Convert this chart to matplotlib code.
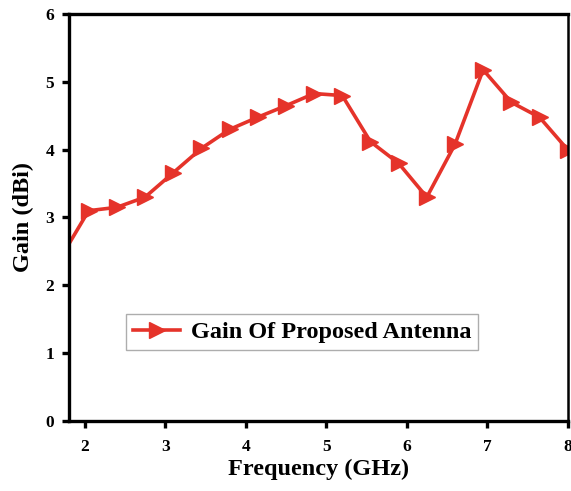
import matplotlib
matplotlib.use("Agg")
import matplotlib.pyplot as plt

# gain of the proposed antenna vs frequency
freq_ghz = [1.70, 2.05, 2.40, 2.75, 3.10, 3.45, 3.80, 4.15, 4.50, 4.85,
            5.20, 5.55, 5.90, 6.25, 6.60, 6.95, 7.30, 7.65, 8.00]
gain_dbi = [2.40, 3.10, 3.15, 3.30, 3.66, 4.02, 4.30, 4.48, 4.65, 4.83,
            4.80, 4.12, 3.80, 3.30, 4.08, 5.18, 4.70, 4.48, 4.00]
x_ticks = [2, 3, 4, 5, 6, 7, 8]
y_ticks = [0, 1, 2, 3, 4, 5, 6]
series_label = "Gain Of Proposed Antenna"

plt.rcParams['font.family'] = ['Liberation Serif', 'DejaVu Serif']
plt.rcParams['font.weight'] = 'bold'

fig = plt.figure(figsize=(5.71, 4.91), dpi=100)
ax = fig.add_axes([0.1214, 0.1432, 0.8728, 0.8277])

ax.plot(freq_ghz, gain_dbi, color='#e5332a', linewidth=2.6, marker='>',
        markersize=11, label=series_label)

ax.set_xlim(1.81, 8.0)
ax.set_ylim(0, 6)
ax.set_xticks(x_ticks)
ax.set_yticks(y_ticks)

for side in ['left', 'bottom', 'top']:
    ax.spines[side].set_linewidth(2.4)
ax.spines['right'].set_linewidth(1.8)
ax.tick_params(direction='out', length=5, width=2.4, labelsize=12.5)
ax.tick_params(axis='x', pad=8)
ax.tick_params(axis='y', pad=6)
for lab in ax.get_xticklabels() + ax.get_yticklabels():
    lab.set_fontweight('bold')

ax.set_xlabel("Frequency (GHz)", fontsize=17.5, fontweight='bold', labelpad=3)
ax.set_ylabel("Gain (dBi)", fontsize=17.5, fontweight='bold', labelpad=8)

leg = ax.legend(loc='center left', bbox_to_anchor=(0.114, 0.218),
                borderaxespad=0, prop={'size': 17.5, 'weight': 'bold'},
                fancybox=False, handlelength=1.9, borderpad=0.3,
                handletextpad=0.45)
leg.get_frame().set_edgecolor('#999999')
leg.get_frame().set_linewidth(1.0)

fig.savefig("out.png", dpi=100)
